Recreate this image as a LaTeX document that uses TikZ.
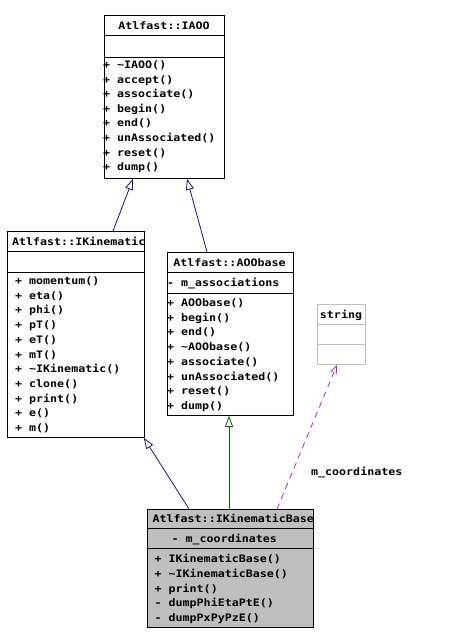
\documentclass[tikz,border=0pt]{standalone}
\usepackage{fontspec}
\newfontfamily\umlfont[FakeStretch=1.13]{DejaVu Sans Mono}
\usetikzlibrary{arrows.meta,calc}
\definecolor{navyline}{HTML}{191970}
\definecolor{greenline}{HTML}{006400}
\definecolor{purpleline}{HTML}{9A32CD}
\definecolor{boxgray}{HTML}{BFBFBF}
\tikzset{
  box/.style={draw=black, line width=0.8pt, anchor=north west, inner sep=0pt},
  txt/.style={font=\umlfont\bfseries\fontsize{10.3}{13}\selectfont, inner sep=0pt, text height=8pt, text depth=0pt, anchor=west},
  sep/.style={draw=black, line width=0.8pt},
  inh/.style={line width=0.8pt, -{Triangle[open,length=11pt,width=8pt]}},
  use/.style={line width=0.8pt, purpleline, dash pattern=on 6pt off 5pt, -{Straight Barb[length=8pt,width=6pt]}}
}
\begin{document}
\begin{tikzpicture}[x=1pt,y=-1pt]
\useasboundingbox (0,0) rectangle (454,644);
\fill[white] (0,0) rectangle (454,644);

% IAOO
\node[box, minimum width=120pt, minimum height=163pt] (iaoo) at (104,15) {};
\draw[sep] (104,35) -- (224,35);
\draw[sep] (104,57) -- (224,57);
\node[txt, anchor=center] (iaoot) at (164,26) {Atlfast::IAOO};
\foreach \t [count=\i from 0] in {\textasciitilde IAOO(),accept(),associate(),begin(),end(),unAssociated(),reset(),dump()}
  \node[txt] (iaoom\i) at (103,{64.5+14.6*\i}) {+ \t};

% IKinematic
\node[box, minimum width=137pt, minimum height=206pt] (ikin) at (7,231) {};
\draw[sep] (7,251) -- (144,251);
\draw[sep] (7,272) -- (144,272);
\node[txt] (ikint) at (12,241.5) {Atlfast::IKinematic};
\foreach \t [count=\i from 0] in {momentum(),eta(),phi(),pT(),eT(),mT(),\textasciitilde IKinematic(),clone(),print(),e(),m()}
  \node[txt] (ikinm\i) at (15,{280.5+14.7*\i}) {+ \t};

% AOObase
\node[box, minimum width=126pt, minimum height=163pt] (aoo) at (167,252) {};
\draw[sep] (167,272) -- (293,272);
\draw[sep] (167,293) -- (293,293);
\node[txt, anchor=center] (aoot) at (229.5,262.5) {Atlfast::AOObase};
\node[txt] (aooa) at (167,282.5) {- m\_associations};
\foreach \t [count=\i from 0] in {AOObase(),begin(),end(),\textasciitilde AOObase(),associate(),unAssociated(),reset(),dump()}
  \node[txt] (aoom\i) at (167,{302.5+14.7*\i}) {+ \t};

% string
\node[box, draw=boxgray, minimum width=48pt, minimum height=60pt] (str) at (317,304) {};
\draw[sep, draw=boxgray] (317,324) -- (365,324);
\draw[sep, draw=boxgray] (317,344) -- (365,344);
\node[txt, anchor=center] (strt) at (341,314.5) {string};

% IKinematicBase
\node[box, fill=boxgray, minimum width=166pt, minimum height=118pt] (ikb) at (147,509) {};
\draw[sep] (147,528) -- (313,528);
\draw[sep] (147,548) -- (313,548);
\node[txt] (ikbt) at (152.5,518.5) {Atlfast::IKinematicBase};
\node[txt] (ikba) at (171.5,538.5) {- m\_coordinates};
\foreach \s/\t [count=\i from 0] in {+/IKinematicBase(),+/\textasciitilde IKinematicBase(),+/print(),-/dumpPhiEtaPtE(),-/dumpPxPyPzE()}
  \node[txt] (ikbm\i) at (154.5,{558.5+14.75*\i}) {\s{} \t};

% connectors
\draw[inh, navyline] ([xshift=106pt]ikin.north west) -- ([xshift=29pt]iaoo.south west);
\draw[inh, navyline] ([xshift=40pt]aoo.north west) -- ([xshift=83pt]iaoo.south west);
\draw[inh, navyline] ([xshift=42pt]ikb.north west) -- ([xshift=-1pt]ikin.south east);
\draw[inh, greenline] ([xshift=82pt]ikb.north west) -- ([xshift=62pt]aoo.south west);
\draw[use] ([xshift=130pt]ikb.north west) -- ([xshift=20pt]str.south west);
\node[txt] (lbl) at (311,471) {m\_coordinates};
\end{tikzpicture}
\end{document}
